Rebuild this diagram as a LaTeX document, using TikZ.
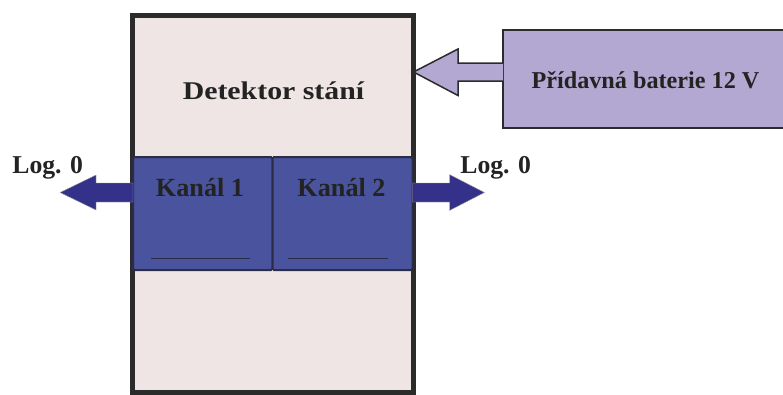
\documentclass[tikz,border=0pt]{standalone}
\usepackage{fontspec}
\setmainfont{Liberation Serif}
\usetikzlibrary{calc}
\definecolor{boxfill}{HTML}{EFE5E5}
\definecolor{edge}{HTML}{2B2B2B}
\definecolor{chanfill}{HTML}{4A549E}
\definecolor{chanedge}{HTML}{2A2C48}
\definecolor{arrowblue}{HTML}{34318A}
\definecolor{battfill}{HTML}{B3A8D1}
\definecolor{ink}{HTML}{232323}
\begin{document}
\begin{tikzpicture}[x=1pt,y=-1pt,
  lbl/.style={font=\fontsize{#1}{30}\selectfont\bfseries, text=ink, inner sep=0pt, anchor=base},
  lbl/.default=25,
  mainbox/.style={draw=edge, line width=5pt, fill=boxfill, inner sep=0pt, outer sep=0pt, anchor=north west},
  chan/.style={draw=chanedge, line width=2pt, fill=chanfill, rounded corners=1.5pt, inner sep=0pt, outer sep=0pt, anchor=north west, minimum height=113pt},
  battbox/.style={draw=edge, line width=2pt, fill=battfill, inner sep=0pt, outer sep=0pt, anchor=north west},
  uline/.style={draw=chanedge, line width=1pt},
  outarrow/.style={fill=arrowblue, draw=gray!70, line width=0.4pt},
  inarrow/.style={fill=battfill, draw=edge, line width=1.5pt, line join=miter}]
\useasboundingbox (0,0) rectangle (783,394);
\clip (0,0) rectangle (783,394);

% detector housing
\node[mainbox, minimum width=281.5pt, minimum height=377pt] (det) at (132,15) {};

% channel blocks
\node[chan, minimum width=139.5pt] (ch1) at (133,157) {};
\node[chan, minimum width=140pt] (ch2) at (272.5,157) {};
\draw[uline] ($(ch1.south west)+(18,-12)$) -- ++(99,0);
\draw[uline] ($(ch2.south west)+(15.5,-12)$) -- ++(100,0);

% auxiliary battery
\node[battbox, minimum width=300pt, minimum height=98pt] (bat) at (503,30) {};

% labels
\node[lbl=25.5] (dettxt) at (273.5,99.3) {\scalebox{1.17}[1]{Detektor stání}};
\node[lbl=24.2] (battxt) at (645.5,88.3) {Přídavná baterie 12 V};
\node[lbl=26.2] (ch1txt) at (200,196.7) {Kanál 1};
\node[lbl=26.2] (ch2txt) at (341.5,196.7) {Kanál 2};
\node[lbl=25.7] (logl) at (47.7,173.3) {Log. 0};
\node[lbl=25.7] (logr) at (495.7,173.3) {Log. 0};

% output arrows
\coordinate (la) at (ch1.west |- 0,192.5);
\coordinate (ra) at (ch2.east |- 0,192.5);
\draw[outarrow] ($(la)+(0,-9.5)$) -- ++(-37,0) -- ++(0,-8) -- ++(-36,17.5)
  -- ++(36,17.5) -- ++(0,-8) -- ++(37,0) -- cycle;
\draw[outarrow] ($(ra)+(0,-9.5)$) -- ++(37,0) -- ++(0,-8.5) -- ++(35,18)
  -- ++(-35,18) -- ++(0,-8.5) -- ++(-37,0) -- cycle;

% supply arrow from battery into the detector
\coordinate (ba) at (bat.west |- 0,72);
\coordinate (tip) at (det.east |- 0,72);
\draw[inarrow] ($(ba)+(0,-9)$) -- ++(-45,0) -- ++(0,-14) -- (tip)
  -- ($(ba)+(-45,23.5)$) -- ++(0,-14.5) -- ($(ba)+(0,9)$);
\end{tikzpicture}
\end{document}
